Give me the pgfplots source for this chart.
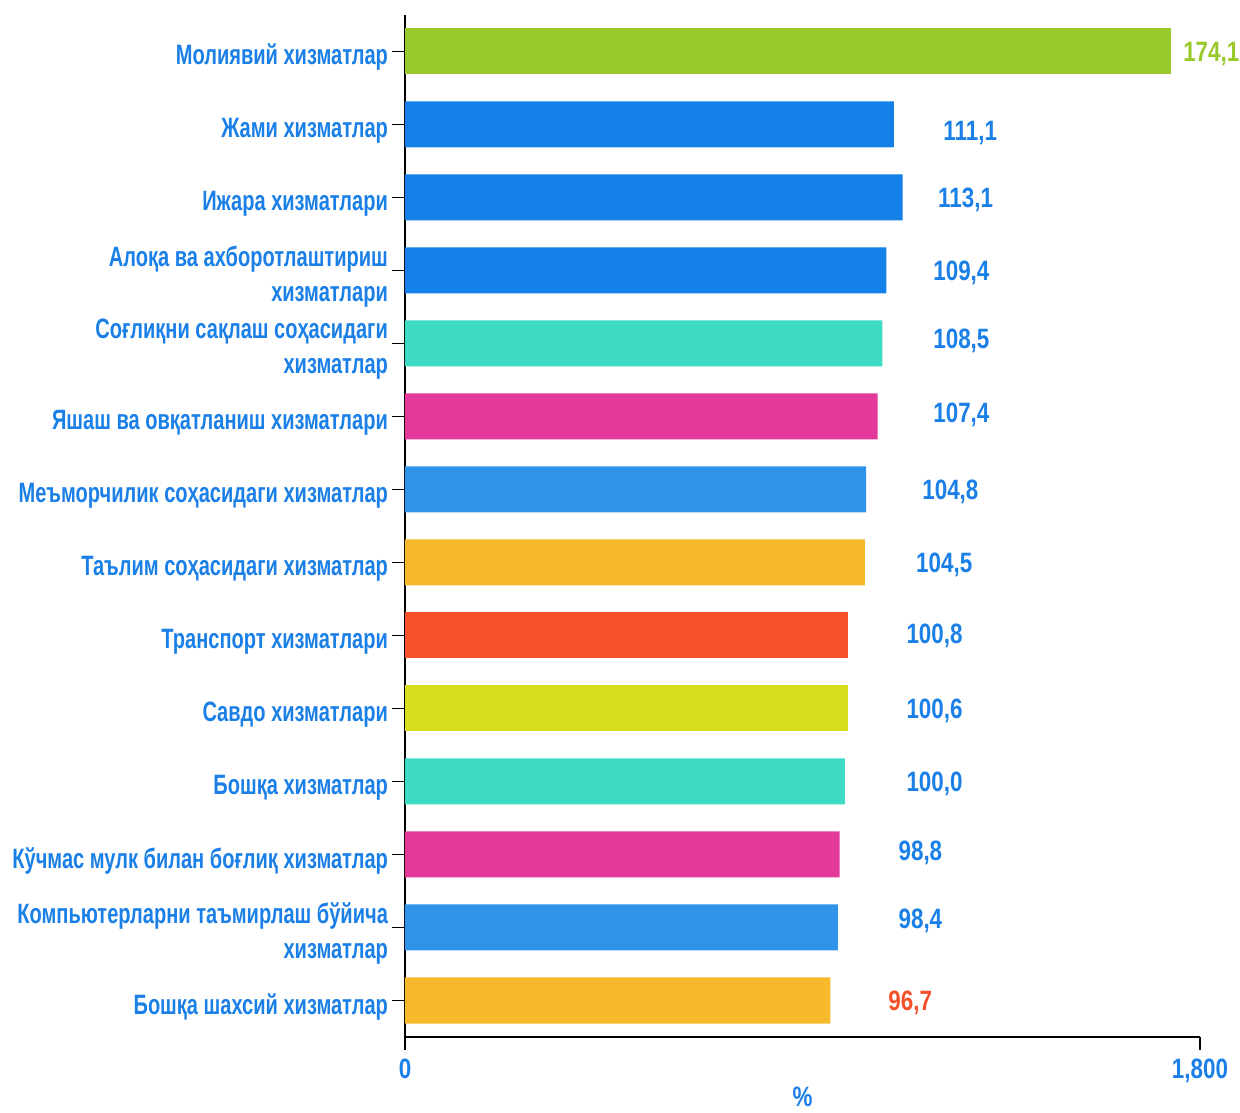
\documentclass[border=0pt]{standalone}
\usepackage{fontspec}
\setmainfont{Liberation Sans}[FakeStretch=0.716]
\newfontfamily\numfont{Liberation Sans}[FakeStretch=0.8]
\usepackage{pgfplots}
\pgfplotsset{compat=1.18}
\definecolor{lblue}{HTML}{1A7FE6}
\definecolor{cgreen}{HTML}{9AC92C}
\definecolor{cblue}{HTML}{1480E8}
\definecolor{cteal}{HTML}{3DDBC3}
\definecolor{cmag}{HTML}{E4399A}
\definecolor{clblue}{HTML}{2F94E8}
\definecolor{corange}{HTML}{F6B92C}
\definecolor{cred}{HTML}{F5502A}
\definecolor{cyg}{HTML}{D5DF1F}
\newcommand{\lbl}{\bfseries\fontsize{14}{17.5}\selectfont}
\newcommand{\nlbl}{\numfont\bfseries\fontsize{14}{17.5}\selectfont}
\pgfplotsset{mybar/.style={xbar, bar width=23pt, bar shift=0pt, draw=none, fill=#1}}
\pgfplotsset{mylab/.style={draw=none, mark=none, nodes near coords, point meta=explicit symbolic,
  nodes near coords style={anchor=west, inner sep=0pt, font=\nlbl, text=#1, yshift=-1.2pt}}}
\begin{document}
\begin{tikzpicture}
\begin{axis}[
 at={(0,0)}, anchor=south west,
 width=397.5pt, height=511pt, scale only axis,
 xmin=0, xmax=180.7, ymin=-0.5, ymax=13.5,
 axis x line*=bottom, axis y line*=left,
 axis line style={-, line width=0.8pt, black},
 xtick={0,180.7}, xticklabels={0,{1,800}},
 ytick={0,...,13},
 yticklabels={Бошқа шахсий хизматлар,
  {Компьютерларни таъмирлаш бўйича\\хизматлар},
  Кўчмас мулк билан боғлиқ хизматлар,
  Бошқа хизматлар,
  Савдо хизматлари,
  Транспорт хизматлари,
  Таълим соҳасидаги хизматлар,
  Меъморчилик соҳасидаги хизматлар,
  Яшаш ва овқатланиш хизматлари,
  {Соғлиқни сақлаш соҳасидаги\\хизматлар},
  {Алоқа ва ахборотлаштириш\\хизматлари},
  Ижара хизматлари,
  Жами хизматлар,
  Молиявий хизматлар},
 tick align=outside, major tick length=6.5pt,
 tick style={black, line width=0.8pt},
 yticklabel style={font=\lbl, text=lblue, align=right, yshift=-3pt, xshift=1.5pt},
 xticklabel style={font=\nlbl, text=lblue, yshift=-1pt},
 xlabel={\%}, xlabel style={font=\nlbl, text=lblue, at={(axis description cs:0.5,0)}, anchor=north, inner sep=0pt, yshift=-25pt},
 clip=false,
]
\addplot[mybar=cgreen] coordinates {(174.1,13)};
\addplot[mybar=cblue] coordinates {(111.1,12) (113.1,11) (109.4,10)};
\addplot[mybar=cteal] coordinates {(108.5,9) (100.0,3)};
\addplot[mybar=cmag] coordinates {(107.4,8) (98.8,2)};
\addplot[mybar=clblue] coordinates {(104.8,7) (98.4,1)};
\addplot[mybar=corange] coordinates {(104.5,6) (96.7,0)};
\addplot[mybar=cred] coordinates {(100.8,5)};
\addplot[mybar=cyg] coordinates {(100.6,4)};
\addplot[mylab=cgreen] table[meta=label] {
x y label
176.8 13 174,1
};
\addplot[mylab=lblue] table[meta=label] {
x y label
122.3 11.92 111,1
121.1 11.0 113,1
120.0 10.0 109,4
120.0 9.07 108,5
120.0 8.05 107,4
117.5 7.0 104,8
116.1 6.0 104,5
113.9 5.03 100,8
113.9 4.0 100,6
113.9 3.0 100,0
112.1 2.05 98,8
112.1 1.12 98,4
};
\addplot[mylab=cred] table[meta=label] {
x y label
109.8 0 96,7
};
\end{axis}
\pgfresetboundingbox
\path (-202.5pt,-37.5pt) rectangle (417.5pt,518.5pt);
\end{tikzpicture}
\end{document}
